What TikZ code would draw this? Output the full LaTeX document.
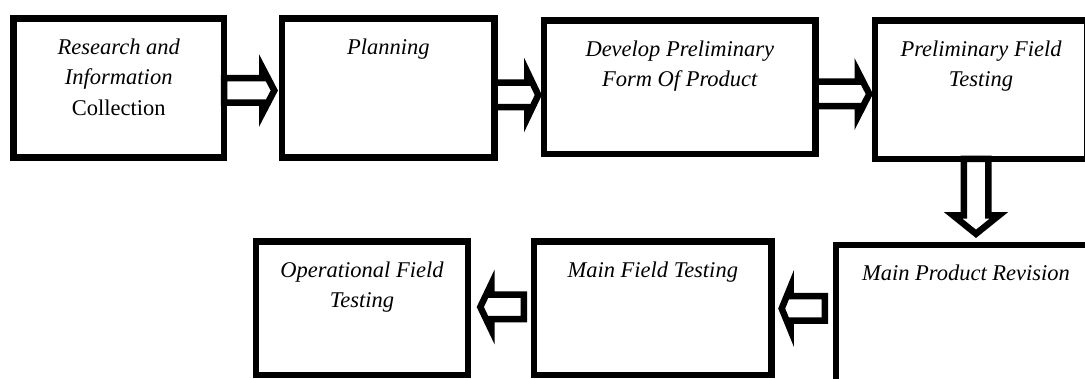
\documentclass[tikz,border=0pt]{standalone}
\usepackage{fontspec}
\setmainfont{Liberation Serif}
\usetikzlibrary{calc}
\tikzset{
  box/.style={draw, rectangle, line width=6.5pt, inner sep=0pt, outer sep=0pt},
  blockarrow/.style={draw, line width=6.5pt, line join=miter, miter limit=10},
}
\newcommand\boxtext[3]{\parbox[c][#2pt][t]{#1pt}{\centering\itshape\fontsize{22.5}{30.5}\selectfont\rule{0pt}{36pt}#3}}
% hollow block arrow from #1 to #2, head length #3, head half-width #4
\newcommand\hollowarrow[4]{%
  \draw[blockarrow]
    ($(#1)!12.25pt!90:(#2)$)
    -- ($(#2)!#3!(#1)!12.25pt!-90:(#1)$)
    -- ($(#2)!#3!(#1)!#4!-90:(#1)$)
    -- (#2)
    -- ($(#2)!#3!(#1)!#4!90:(#1)$)
    -- ($(#2)!#3!(#1)!12.25pt!90:(#1)$)
    -- ($(#1)!12.25pt!-90:(#2)$)
    -- cycle;}
\begin{document}
\begin{tikzpicture}[x=1pt,y=-1pt]
\path[use as bounding box, clip] (0,0) rectangle (1085,379);

\node[box, minimum width=210.5pt, minimum height=139pt] (b1) at (118.75,88)
  {\boxtext{210.5}{139}{Research and\\Information\\{\upshape Collection}}};
\node[box, minimum width=212.5pt, minimum height=139pt] (b2) at (388.25,88)
  {\boxtext{212.5}{139}{Planning}};
\node[box, minimum width=271.5pt, minimum height=133.5pt] (b3) at (679.75,87.25)
  {\boxtext{271.5}{133.5}{Develop Preliminary\\Form Of Product}};
\node[box, minimum width=212pt, minimum height=138.5pt] (b4) at (981,89.75)
  {\boxtext{212}{138.5}{Preliminary Field\\Testing}};
\node[box, minimum width=260pt, minimum height=150pt] (b5) at (966,320)
  {\boxtext{260}{150}{Main Product Revision}};
\node[box, minimum width=237.5pt, minimum height=133.5pt] (b6) at (652.75,308.25)
  {\boxtext{237.5}{133.5}{Main Field Testing}};
\node[box, minimum width=212pt, minimum height=133.5pt] (b7) at (362,308.25)
  {\boxtext{212}{133.5}{Operational Field\\Testing}};

\coordinate (a1s) at ($(b1.east)+(0,2.5)$);
\coordinate (a1e) at ($(b2.west)+(-7.7,2.5)$);
\coordinate (a2s) at ($(b2.east)+(0,7)$);
\coordinate (a2e) at ($(b3.west)+(-5.7,7.75)$);
\coordinate (a3s) at ($(b3.east)+(0,6.75)$);
\coordinate (a3e) at ($(b4.west)+(-5.7,4.25)$);
\coordinate (a4s) at ($(b4.south)+(-5,0)$);
\coordinate (a4e) at ($(b5.north)+(10,-11.2)$);
\coordinate (a5s) at ($(b5.west)+(-11.25,-11.5)$);
\coordinate (a5e) at ($(b6.east)+(10.2,0.25)$);
\coordinate (a6s) at ($(b6.west)+(-10.25,-1.25)$);
\coordinate (a6e) at ($(b7.east)+(12.3,-1.25)$);

\hollowarrow{a1s}{a1e}{12pt}{23pt}
\hollowarrow{a2s}{a2e}{11pt}{23pt}
\hollowarrow{a3s}{a3e}{11.5pt}{22.5pt}
\hollowarrow{a4s}{a4e}{18.5pt}{23pt}
\hollowarrow{a5s}{a5e}{9pt}{22pt}
\hollowarrow{a6s}{a6e}{11pt}{23pt}
\end{tikzpicture}
\end{document}
